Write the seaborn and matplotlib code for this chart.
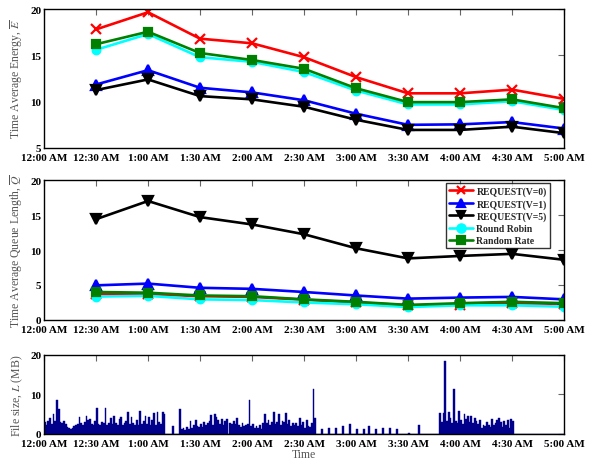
import numpy as np
import pandas as pd
import matplotlib
matplotlib.use("Agg")
import matplotlib.pyplot as plt
import seaborn as sns

# ---------------- data ----------------
times = [30, 60, 90, 120, 150, 180, 210, 240, 270, 300]  # minutes after 12:00 AM
tick_minutes = [0, 30, 60, 90, 120, 150, 180, 210, 240, 270, 300]
tick_labels = ["12:00 AM", "12:30 AM", "1:00 AM", "1:30 AM", "2:00 AM", "2:30 AM",
               "3:00 AM", "3:30 AM", "4:00 AM", "4:30 AM", "5:00 AM"]

series_names = ["REQUEST(V=0)", "REQUEST(V=1)", "REQUEST(V=5)", "Round Robin", "Random Rate"]

energy_v0 = [17.8, 19.65, 16.8, 16.3, 14.8, 12.65, 10.9, 10.9, 11.3, 10.3]
energy_v1 = [11.85, 13.4, 11.5, 11.0, 10.15, 8.7, 7.5, 7.55, 7.8, 7.1]
energy_v5 = [11.25, 12.4, 10.6, 10.25, 9.45, 8.05, 6.95, 6.95, 7.3, 6.6]
energy_rr = [15.6, 17.3, 14.8, 14.3, 13.2, 11.2, 9.7, 9.7, 10.05, 9.1]
energy_rand = [16.2, 17.55, 15.25, 14.5, 13.55, 11.45, 9.95, 9.95, 10.25, 9.3]

queue_v0 = [3.7, 3.7, 3.4, 3.3, 2.9, 2.5, 2.1, 2.2, 2.4, 2.3]
queue_v1 = [4.95, 5.2, 4.6, 4.45, 4.0, 3.5, 3.05, 3.2, 3.3, 2.95]
queue_v5 = [14.4, 17.0, 14.7, 13.65, 12.25, 10.25, 8.8, 9.15, 9.45, 8.6]
queue_rr = [3.35, 3.45, 2.95, 2.85, 2.5, 2.25, 1.85, 2.1, 2.1, 1.9]
queue_rand = [4.0, 3.9, 3.5, 3.4, 2.95, 2.6, 2.15, 2.4, 2.6, 2.4]

# file size per minute (MB), minutes 0..299
file_size = [
    3.0, 2.2, 3.4, 4.0, 2.6, 5.0, 3.2, 8.7, 6.4, 3.0,
    2.8, 3.2, 2.5, 1.8, 1.4, 1.2, 1.6, 2.0, 2.4, 2.6,
    4.3, 2.8, 2.4, 3.1, 4.6, 3.6, 3.7, 2.6, 2.2, 3.4,
    6.5, 2.5, 2.3, 3.1, 2.8, 6.6, 2.4, 2.9, 4.1, 2.6,
    4.6, 2.7, 2.4, 3.8, 4.3, 2.3, 2.8, 3.4, 5.5, 2.5,
    4.4, 2.8, 2.2, 3.5, 2.4, 5.9, 2.6, 3.3, 4.5, 2.5,
    4.4, 2.2, 3.6, 5.4, 2.4, 5.5, 3.1, 2.5, 5.5, 5.0,
    0.0, 0.0, 0.0, 0.0, 2.0, 0.0, 0.0, 0.0, 6.4, 1.2,
    1.5, 0.9, 1.8, 1.3, 3.3, 1.6, 2.3, 3.5, 2.0, 1.8,
    2.6, 1.7, 3.0, 2.2, 2.8, 3.4, 4.8, 2.3, 5.0, 4.4,
    3.6, 2.6, 3.8, 2.4, 3.3, 3.9, 0.0, 2.7, 2.5, 3.3,
    2.5, 4.1, 2.2, 1.8, 2.7, 2.0, 2.3, 2.5, 8.6, 1.9,
    2.6, 1.4, 1.9, 1.6, 2.3, 1.2, 2.7, 5.0, 2.8, 3.6,
    2.2, 3.0, 5.5, 2.6, 3.1, 5.0, 2.4, 3.3, 3.0, 5.3,
    2.6, 3.5, 2.0, 2.8, 2.4, 2.9, 2.1, 4.0, 2.3, 3.1,
    1.6, 3.6, 2.0, 1.8, 2.8, 11.4, 4.0, 0.0, 0.0, 0.0,
    1.2, 0.0, 0.0, 0.0, 1.5, 0.0, 0.0, 0.0, 1.5, 0.0,
    0.0, 0.0, 2.0, 0.0, 0.0, 0.0, 2.5, 0.0, 0.0, 0.0,
    1.2, 0.0, 0.0, 0.0, 1.2, 0.0, 0.0, 2.0, 0.0, 0.0,
    0.0, 1.2, 0.0, 0.0, 0.0, 1.5, 0.0, 0.0, 0.0, 1.5,
    0.0, 0.0, 0.0, 1.2, 0.0, 0.0, 0.0, 0.0, 0.0, 0.0,
    0.3, 0.0, 0.0, 0.0, 0.0, 0.0, 2.4, 0.0, 0.0, 0.0,
    0.0, 0.0, 0.0, 0.0, 0.0, 0.0, 0.0, 0.0, 5.2, 3.0,
    5.3, 18.5, 3.4, 5.5, 4.0, 2.8, 11.4, 3.2, 2.7, 5.9,
    3.6, 2.5, 5.0, 3.8, 4.6, 3.1, 4.5, 2.8, 4.0, 3.2,
    2.5, 3.6, 1.6, 2.2, 1.9, 3.0, 2.4, 1.7, 3.8, 2.2,
    2.9, 3.5, 4.0, 3.0, 1.8, 3.4, 2.2, 3.5, 1.6, 3.8,
    3.4, 0.0, 0.0, 0.0, 0.0, 0.0, 0.0, 0.0, 0.0, 0.0,
    0.0, 0.0, 0.0, 0.0, 0.0, 0.0, 0.0, 0.0, 0.0, 0.0,
    0.0, 0.0, 0.0, 0.0, 0.0, 0.0, 0.0, 0.0, 0.0, 0.0,
]
file_minutes = list(range(len(file_size)))

# ---------------- style ----------------
sns.set_style("white")
plt.rcParams["font.family"] = ["Liberation Serif", "DejaVu Serif"]
plt.rcParams["mathtext.fontset"] = "stix"

colors = {"REQUEST(V=0)": "#ff0000", "REQUEST(V=1)": "#0000ff", "REQUEST(V=5)": "#000000",
          "Round Robin": "#00ffff", "Random Rate": "#008000"}
markers = {"REQUEST(V=0)": "x", "REQUEST(V=1)": "^", "REQUEST(V=5)": "v",
           "Round Robin": "o", "Random Rate": "s"}
msizes = {"REQUEST(V=0)": 6.5, "REQUEST(V=1)": 7, "REQUEST(V=5)": 7,
          "Round Robin": 5.5, "Random Rate": 5.5}

energy = dict(zip(series_names, [energy_v0, energy_v1, energy_v5, energy_rr, energy_rand]))
queue = dict(zip(series_names, [queue_v0, queue_v1, queue_v5, queue_rr, queue_rand]))

fig = plt.figure(figsize=(5.89, 4.64), dpi=100)
ax1 = fig.add_axes([0.0747, 0.6789, 0.883, 0.2995])
ax2 = fig.add_axes([0.0747, 0.3082, 0.883, 0.3017])
ax3 = fig.add_axes([0.0747, 0.0625, 0.883, 0.1703])

tick_font = dict(fontsize=8, fontweight="bold")
label_color = "#555555"


def style_axis(ax):
    ax.set_xlim(0, 300)
    ax.set_xticks(tick_minutes)
    ax.set_xticklabels(tick_labels, **tick_font)
    for lab in ax.get_yticklabels():
        lab.set_fontweight("bold")
        lab.set_fontsize(8)
    ax.tick_params(direction="in", length=4, width=0.8, color="#666666",
                   top=True, right=True, labelcolor="black")
    ax.tick_params(axis="x", pad=3.5)
    ax.tick_params(axis="y", pad=2)
    for s in ax.spines.values():
        s.set_color("black")
        s.set_linewidth(1.0)
        s.set_visible(True)


for ax, data in ((ax1, energy), (ax2, queue)):
    for name in series_names:
        df = pd.DataFrame({"t": times, "v": data[name]})
        sns.lineplot(data=df, x="t", y="v", ax=ax, color=colors[name], linewidth=1.9,
                     marker=markers[name], markersize=msizes[name],
                     markeredgecolor=colors[name], markeredgewidth=1.6,
                     label=name, legend=(ax is ax2))

ax1.set_ylim(5, 20)
ax1.set_yticks([5, 10, 15, 20])
ax2.set_ylim(0, 20)
ax2.set_yticks([0, 5, 10, 15, 20])

ax1.set_xlabel("")
ax2.set_xlabel("")
ax1.set_ylabel(r"Time Average Energy, $\overline{E}$", fontsize=8.5, color=label_color, labelpad=4)
ax2.set_ylabel(r"Time Average Queue Length, $\overline{Q}$", fontsize=8.5, color=label_color, labelpad=4)

fs_df = pd.DataFrame({"minute": file_minutes, "size": file_size})
sns.histplot(data=fs_df, x="minute", weights="size", bins=300, binrange=(0, 300),
             ax=ax3, color="#00008b", edgecolor="#00008b", linewidth=0.3, alpha=1.0,
             element="bars")
ax3.set_ylim(0, 20)
ax3.set_yticks([0, 10, 20])
ax3.set_ylabel(r"File size, $L$ (MB)", fontsize=8.5, color=label_color, labelpad=4)
ax3.set_xlabel("Time", fontsize=8.5, color=label_color, labelpad=0)

for ax in (ax1, ax2, ax3):
    style_axis(ax)

leg = ax2.legend(loc="upper right", bbox_to_anchor=((550 - 44) / 520, 1 - 3 / 140),
                 borderaxespad=0, fancybox=False, frameon=True, edgecolor="black",
                 prop={"size": 7, "weight": "bold"}, handlelength=2.4, labelspacing=0.3,
                 borderpad=0.35, handletextpad=0.4)
leg.get_frame().set_linewidth(1.0)
for h in leg.legend_handles:
    h.set_markersize(6)

fig.savefig("out.png", dpi=100)
